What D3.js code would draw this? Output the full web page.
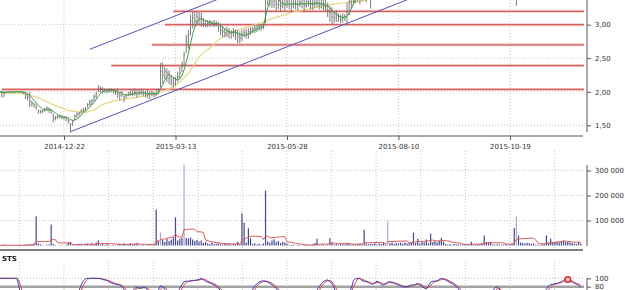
<!DOCTYPE html>
<html>
<head>
<meta charset="utf-8">
<script src="https://cdn.jsdelivr.net/npm/d3@7"></script>
<style>
  body { margin: 0; background: #fff; }
  svg { display: block; font-family: "DejaVu Sans", Verdana, sans-serif; }
</style>
</head>
<body>
<svg id="chart" width="625" height="290"></svg>
<script>
// Dagliga staplar, index 0 = första synliga handelsdagen
const dateTickIdx = [30, 82, 134, 186, 238];
const dateLabels = ["2014-12-22", "2015-03-13", "2015-05-28", "2015-08-10", "2015-10-19"];

const closePx = [
  2.00,1.99,1.98,2.00,2.00,2.00,2.00,2.00,2.00,2.00,2.00,1.99,
  1.95,1.92,1.86,1.83,1.81,1.77,1.72,1.71,1.72,1.74,1.76,1.74,
  1.70,1.60,1.62,1.63,1.64,1.62,1.62,1.60,1.57,1.52,1.56,1.64,
  1.67,1.68,1.72,1.74,1.75,1.81,1.85,1.87,1.93,1.97,2.05,2.04,
  2.01,2.03,2.01,2.02,2.03,2.01,1.99,1.97,1.95,1.97,1.92,1.95,
  1.97,1.98,1.98,1.99,1.97,1.98,1.99,1.98,1.97,1.96,1.97,1.98,
  1.96,1.97,2.02,2.30,2.25,2.30,2.28,2.20,2.15,2.12,2.18,2.22,
  2.28,2.40,2.55,2.75,2.85,3.05,3.10,3.05,3.12,3.10,3.08,3.02,
  3.00,3.02,3.04,3.02,3.00,3.02,2.98,2.92,2.90,2.88,2.90,2.88,
  2.87,2.90,2.88,2.82,2.80,2.84,2.88,2.87,2.90,2.92,2.93,2.95,
  2.96,2.97,2.98,2.99,3.70,3.60,3.50,3.45,3.35,3.30,3.30,3.28,
  3.32,3.30,3.34,3.30,3.28,3.32,3.31,3.30,3.33,3.31,3.29,3.32,
  3.34,3.31,3.30,3.32,3.33,3.30,3.31,3.29,3.27,3.22,3.18,3.12,
  3.10,3.15,3.12,3.08,3.10,3.12,3.20,3.35,3.42,3.45,3.48,3.50,
  3.47,3.50,3.55,3.52,3.55,3.45,3.58,3.62,3.65,3.60,3.63,3.68,
  3.70,3.78,3.80,3.76,3.74,3.77,3.80,3.78,3.75,3.72,3.74,3.76,
  3.85,3.88,3.84,3.86,3.82,3.80,3.78,3.80,3.85,3.90,3.92,3.95,
  3.93,3.97,4.00,3.98,3.96,3.92,3.90,3.88,3.85,3.82,3.80,3.78,
  3.76,3.75,3.74,3.72,3.74,3.73,3.70,3.68,3.66,3.70,3.72,3.70,
  3.68,3.66,3.68,3.72,3.70,3.66,3.62,3.60,3.58,3.56,3.55,3.52,
  3.45,3.48,3.55,3.58,3.56,3.54,3.55,3.58,3.57,3.55,3.54,3.52,
  3.50,3.52,3.55,3.60,3.65,3.68,3.70,3.72,3.74,3.76,3.78,3.82,
  3.85,3.84,3.82,3.80,3.78,3.76,3.74,3.72
];

const highPx = [
  2.01,2.02,2.01,2.01,2.01,2.01,2.01,2.00,2.01,2.01,2.01,2.00,
  2.00,1.97,2.00,1.87,1.84,1.81,1.73,1.73,1.73,1.76,1.78,1.77,
  1.74,1.68,1.64,1.65,1.66,1.65,1.64,1.63,1.60,1.53,1.58,1.66,
  1.69,1.70,1.74,1.76,1.77,1.83,1.88,1.89,1.96,2.00,2.10,2.08,
  2.07,2.05,2.04,2.05,2.05,2.04,2.04,2.05,2.00,2.02,1.95,1.97,
  2.00,2.02,2.04,2.05,2.02,2.03,2.04,2.02,2.01,2.03,2.01,2.02,
  2.00,2.03,2.05,2.43,2.44,2.37,2.35,2.32,2.25,2.22,2.22,2.30,
  2.37,2.45,2.60,2.85,2.92,3.15,3.19,3.19,3.19,3.19,3.18,3.10,
  3.06,3.07,3.07,3.06,3.07,3.06,3.04,3.02,2.98,2.95,2.97,2.95,
  2.92,2.95,2.93,2.92,2.90,2.92,2.93,2.94,2.95,2.96,2.97,3.00,
  3.00,3.00,3.00,3.02,3.80,3.75,3.65,3.55,3.50,3.45,3.42,3.40,
  3.42,3.44,3.45,3.42,3.40,3.44,3.42,3.40,3.45,3.42,3.40,3.43,
  3.45,3.42,3.41,3.44,3.45,3.42,3.43,3.40,3.38,3.33,3.28,3.26,
  3.20,3.22,3.17,3.15,3.17,3.16,3.32,3.45,3.50,3.55,3.58,3.60,
  3.56,3.60,3.65,3.62,3.65,3.60,3.66,3.70,3.72,3.68,3.70,3.75,
  3.78,3.86,3.88,3.84,3.80,3.84,3.88,3.85,3.82,3.80,3.80,3.84,
  3.92,3.96,3.92,3.93,3.90,3.87,3.85,3.88,3.92,3.98,4.00,4.02,
  4.00,4.05,4.08,4.06,4.03,4.00,3.97,3.95,3.93,3.90,3.88,3.85,
  3.83,3.82,3.80,3.79,3.80,3.80,3.77,3.75,3.73,3.77,3.80,3.77,
  3.75,3.73,3.75,3.79,3.77,3.73,3.70,3.67,3.65,3.63,3.62,3.60,
  3.55,3.56,3.62,3.65,3.63,3.61,3.62,3.65,3.64,3.62,3.61,3.59,
  3.57,3.59,3.62,3.68,3.72,3.75,3.77,3.79,3.81,3.83,3.85,3.90,
  3.92,3.91,3.89,3.87,3.85,3.83,3.81,3.79
];

const lowPx = [
  1.99,1.92,1.93,1.99,1.99,2.00,1.99,1.99,2.00,1.99,1.99,1.97,
  1.90,1.88,1.78,1.79,1.77,1.74,1.68,1.68,1.69,1.71,1.72,1.69,
  1.68,1.55,1.58,1.60,1.61,1.60,1.59,1.57,1.53,1.40,1.50,1.58,
  1.62,1.64,1.68,1.70,1.72,1.77,1.79,1.81,1.86,1.90,2.00,2.00,
  1.98,1.99,1.98,1.99,2.00,1.98,1.96,1.92,1.88,1.93,1.85,1.91,
  1.94,1.95,1.94,1.95,1.92,1.95,1.96,1.94,1.93,1.91,1.90,1.94,
  1.92,1.94,1.97,2.07,2.13,2.20,2.15,2.12,2.10,2.07,2.10,2.15,
  2.20,2.30,2.38,2.58,2.65,2.85,2.95,2.98,3.00,3.00,2.98,2.97,
  2.97,2.97,2.98,2.98,2.97,2.98,2.90,2.85,2.82,2.82,2.82,2.80,
  2.80,2.82,2.78,2.73,2.73,2.76,2.82,2.80,2.80,2.85,2.88,2.88,
  2.90,2.92,2.92,2.94,3.03,3.30,3.28,3.26,3.26,3.22,3.24,3.20,
  3.25,3.22,3.26,3.24,3.19,3.25,3.24,3.22,3.27,3.25,3.21,3.26,
  3.28,3.24,3.23,3.26,3.27,3.24,3.25,3.22,3.20,3.12,3.05,3.00,
  3.03,3.05,3.05,3.03,3.04,3.06,3.00,3.15,3.25,3.30,3.33,3.35,
  3.31,3.36,3.38,3.34,3.40,3.25,3.50,3.54,3.57,3.52,3.55,3.60,
  3.62,3.68,3.72,3.68,3.66,3.69,3.72,3.70,3.67,3.64,3.66,3.68,
  3.76,3.80,3.76,3.78,3.74,3.72,3.70,3.72,3.77,3.82,3.84,3.87,
  3.85,3.89,3.92,3.90,3.88,3.84,3.82,3.80,3.77,3.74,3.72,3.70,
  3.68,3.67,3.66,3.64,3.66,3.65,3.62,3.60,3.58,3.62,3.64,3.62,
  3.60,3.58,3.60,3.64,3.62,3.58,3.54,3.52,3.50,3.48,3.47,3.44,
  3.39,3.29,3.47,3.50,3.48,3.46,3.47,3.50,3.49,3.47,3.46,3.44,
  3.42,3.44,3.47,3.52,3.57,3.60,3.62,3.64,3.66,3.68,3.70,3.74,
  3.77,3.76,3.74,3.72,3.70,3.68,3.66,3.64
];

// Långt glidande medelvärde (gul linje)
const maLong = [
  1.99,1.99,1.98,1.98,1.98,1.98,1.98,1.98,1.98,1.98,1.98,1.98,1.97,
  1.96,1.95,1.94,1.93,1.92,1.91,1.90,1.88,
  1.87,1.85,1.84,1.82,1.81,1.79,1.78,1.77,1.76,1.75,1.73,
  1.72,1.72,1.71,1.71,1.70,1.70,1.70,1.70,1.69,1.70,
  1.71,1.72,1.73,1.75,1.77,1.79,1.81,1.82,1.83,1.84,1.85,
  1.86,1.87,1.87,1.88,1.88,1.89,1.89,1.90,1.90,1.91,1.91,1.92,1.92,1.93,1.93,
  1.94,1.95,1.96,1.97,1.97,1.98,1.99,2.00,
  2.01,2.02,2.03,2.04,2.06,2.08,2.10,2.12,
  2.15,2.18,2.21,2.24,2.28,2.32,2.37,2.42,2.47,2.52,2.55,
  2.58,2.61,2.63,2.65,2.68,2.71,2.74,2.77,2.80,
  2.82,2.84,2.86,2.88,2.89,2.90,2.91,2.92,2.93,
  2.94,2.95,2.96,2.97,2.98,2.99,3.00,3.01,3.02,3.03,3.04,3.05,3.07,
  3.08,3.09,3.10,3.11,3.12,3.13,3.14,3.15,3.16,
  3.17,3.18,3.19,3.20,3.20,3.21,3.21,3.22,3.23,3.23,3.24,
  3.25,3.25,3.26,3.27,3.27,3.28,3.28,3.29,3.30,3.30,3.31,
  3.31,3.32,3.32,3.32,3.33,3.33,3.33,3.34,3.34,3.34,3.34,3.35,3.35,3.36,3.37,
  3.38,3.39,3.41,3.42,3.44,3.45,3.47,3.48,3.50,3.52,3.54,3.55,3.57,3.58,3.60,3.61,
  3.63,3.64,3.66,3.67,3.69,3.70,3.72,3.73,3.74,3.75,3.76,3.77,3.78,3.79,3.80,3.81,
  3.82,3.83,3.84,3.85,3.86,3.86,3.87,3.87,3.87,3.87,3.87,3.86,3.86,3.85,3.84,3.83,
  3.82,3.81,3.80,3.79,3.77,3.76,3.75,3.74,3.73,3.72,3.71,3.70,3.70,3.69,3.68,3.67,
  3.66,3.65,3.64,3.63,3.62,3.61,3.60,3.60,3.59,3.59,3.58,3.58,3.57,3.57,3.56,3.56,
  3.56,3.56,3.56,3.57,3.57,3.58,3.59,3.60,3.61,3.62,3.63,3.64,3.65,3.66,3.67,3.68,
  3.69,3.70,3.71,3.72
];

// Omsättning, tusental aktier
const volumeK = [
  0,2,3,0,1,0,2,0,1,0,0,2,4,3,6,4,
  9,117,8,5,2,0,3,4,84,6,2,0,1,2,0,3,
  12,14,3,1,2,6,2,1,5,8,3,10,6,12,20,4,
  8,3,9,2,1,3,1,5,7,2,9,4,6,9,3,7,
  10,2,1,3,1,2,4,1,6,144,18,52,22,14,26,18,
  24,33,113,20,26,30,324,30,28,32,24,18,22,15,20,10,
  14,8,6,10,5,7,9,6,4,8,5,10,3,7,6,15,
  5,129,91,12,69,29,6,9,4,7,3,8,220,16,12,20,
  25,14,18,10,15,12,8,3,2,4,1,3,2,0,3,1,
  2,1,4,10,27,3,2,4,1,3,29,12,4,6,3,7,
  5,4,8,6,3,5,4,6,8,3,63,8,5,7,6,9,
  4,8,6,10,5,97,9,12,6,10,8,11,7,12,9,10,
  14,51,10,27,8,15,12,24,9,47,14,18,12,20,31,16,
  6,4,5,3,6,4,5,3,4,6,3,5,15,4,3,6,
  5,8,40,14,12,15,4,3,5,4,3,4,6,3,5,8,
  71,116,40,12,10,8,11,9,6,8,3,4,2,5,6,40,
  12,27,14,10,16,12,18,20,14,16,12,10,8,6,14,8
];
const lightVolumeDays = [75, 86, 181, 241];

// Stokastisk oscillator %K
const stsK = [
  100,100,100,100,100,100,100,100,100,
  80,55,35,20,12,8,10,6,4,8,12,18,
  25,30,22,12,5,10,15,20,18,15,10,6,3,15,
  35,55,70,84,94,99,100,100,100,100,100,100,
  99,97,96,95,92,89,88,86,85,84,80,74,
  64,62,66,70,76,79,77,76,79,78,72,66,
  68,64,66,72,82,80,74,66,55,45,40,48,
  65,76,85,92,93,93,94,95,95,96,97,100,
  97,93,91,89,87,84,81,77,70,60,50,45,
  40,35,38,30,20,18,25,35,40,50,65,74,
  82,87,91,93,94,93,91,88,85,80,76,68,
  60,62,58,64,56,50,58,55,52,60,56,50,
  58,64,55,52,60,72,80,87,92,95,96,92,
  87,77,62,50,40,45,52,58,68,76,95,99,
  100,100,94,93,92,90,87,86,90,93,90,85,
  84,88,91,92,90,88,86,84,82,80,79,80,
  82,84,84,86,88,84,80,77,75,82,91,93,
  93,94,97,100,98,96,93,90,88,84,80,75,
  65,55,48,40,35,42,38,30,25,22,35,45,
  40,35,45,70,78,80,75,60,45,35,28,22,
  15,8,12,30,40,35,30,35,42,38,32,28,
  25,30,45,62,74,82,85,86,87,88,90,92,
  95,100,96,94,91,88,86,84,79
];
const stsSignalDays = [265];

// Stöd/motstånd och trendkanal (pris, startdag)
const resistanceLevels = [3.20, 3.00, 2.70, 2.39, 2.035];
const resistanceStart = [81, 77, 71, 52, 1];
const trendChannel = [
  { from: [33, 1.405], to: [200, 3.496] },
  { from: [42, 2.633], to: [111, 3.495] }
];

const priceTicks = [1.5, 2.0, 2.5, 3.0];
const volumeTicks = [100, 200, 300];
const stsTicks = [80, 100];

// ---------------------------------------------------------------
const svg = d3.select("#chart");
const plotR = 584;
const axisX = 587;
const priceBottom = 136;
const volTop = 151, volBottom = 250;
const stsTop = 262;
const gridColor = "#c4c4c4";
const axisColor = "#555";

const loc = d3.formatLocale({ decimal: ",", thousands: " ", grouping: [3], currency: ["", ""] });
const fmtPrice = loc.format(".2f");
const fmtVol = loc.format(",d");

const x = d3.scaleLinear().domain([0, closePx.length - 1]).range([-0.3, 580.7]);
const yP = d3.scaleLinear().domain([1.5, 3.0]).range([125.3, 24.7]);
const yV = d3.scaleLinear().domain([0, 300]).range([245.5, 170.5]);
const yS = d3.scaleLinear().domain([80, 100]).range([286.7, 278.3]);

function sma(arr, n) {
  return arr.map((_, i) => d3.mean(arr.slice(Math.max(0, i - n + 1), i + 1)));
}
const maShort = sma(closePx, 5);
const volMA = sma(volumeK, 10);
const stsD = sma(stsK, 3);

const minorStep = (dateTickIdx[1] - dateTickIdx[0]) / 2.5;
const minorIdx = d3.range(dateTickIdx[0] - minorStep, closePx.length, minorStep);

const defs = svg.append("defs");
function clip(id, y0, y1) {
  defs.append("clipPath").attr("id", id)
    .append("rect").attr("x", 0).attr("y", y0).attr("width", plotR).attr("height", y1 - y0);
  return `url(#${id})`;
}

function dotted(g, x1, y1, x2, y2) {
  g.append("line")
    .attr("x1", x1).attr("y1", y1).attr("x2", x2).attr("y2", y2)
    .attr("stroke", gridColor).attr("stroke-width", 1)
    .attr("stroke-dasharray", "1,2");
}

function styleAxis(g) {
  g.attr("font-family", "DejaVu Sans, Verdana, sans-serif").attr("font-size", 7);
  g.select(".domain").remove();
  g.selectAll(".tick line").attr("stroke", axisColor);
  g.selectAll(".tick text").attr("fill", "#333");
}

// ---- Prispanel
const gPrice = svg.append("g").attr("clip-path", clip("clipPrice", -5, priceBottom));

priceTicks.forEach(v => dotted(gPrice, 0, yP(v), plotR, yP(v)));
dateTickIdx.forEach(i => dotted(gPrice, x(i), 0, x(i), priceBottom));

// motståndslinjer
resistanceLevels.forEach((lvl, k) => {
  [["#f4cccc", 3], ["#d95f5f", 1.3]].forEach(([c, w]) => {
    gPrice.append("line")
      .attr("x1", x(resistanceStart[k])).attr("x2", plotR)
      .attr("y1", yP(lvl)).attr("y2", yP(lvl))
      .attr("stroke", c).attr("stroke-width", w);
  });
});

// trendkanal
trendChannel.forEach(t => {
  gPrice.append("line")
    .attr("x1", x(t.from[0])).attr("y1", yP(t.from[1]))
    .attr("x2", x(t.to[0])).attr("y2", yP(t.to[1]))
    .attr("stroke", "#5252b4").attr("stroke-width", 1);
});

const lineP = d3.line().x((d, i) => x(i)).y(d => yP(d));
gPrice.append("path").datum(maLong)
  .attr("d", lineP).attr("fill", "none")
  .attr("stroke", "#e2d67e").attr("stroke-width", 1.2);

// OHLC-staplar
const bars = gPrice.append("g");
closePx.forEach((c, i) => {
  bars.append("line")
    .attr("x1", x(i)).attr("x2", x(i))
    .attr("y1", yP(highPx[i])).attr("y2", yP(lowPx[i]) + 0.5)
    .attr("stroke", "#6e6e6e").attr("stroke-width", 0.9);
  bars.append("line")
    .attr("x1", x(i)).attr("x2", x(i) + 1.1)
    .attr("y1", yP(c)).attr("y2", yP(c))
    .attr("stroke", "#6e6e6e").attr("stroke-width", 0.8);
});

gPrice.append("path").datum(maShort)
  .attr("d", lineP).attr("fill", "none")
  .attr("stroke", "#3f9f3f").attr("stroke-width", 1);

// axlar för prispanelen
svg.append("line").attr("x1", 0).attr("x2", 583).attr("y1", priceBottom).attr("y2", priceBottom)
  .attr("stroke", axisColor).attr("stroke-width", 1);
svg.append("line").attr("x1", axisX).attr("x2", axisX).attr("y1", 0).attr("y2", 132)
  .attr("stroke", axisColor).attr("stroke-width", 1);

svg.append("g").attr("transform", `translate(0,${priceBottom})`)
  .call(d3.axisBottom(x).tickValues(dateTickIdx)
    .tickFormat((d, i) => dateLabels[i]).tickSize(4).tickPadding(4))
  .call(styleAxis);

svg.append("g").attr("transform", `translate(${axisX},0)`)
  .call(d3.axisRight(yP).tickValues(priceTicks).tickFormat(fmtPrice).tickSize(4).tickPadding(4))
  .call(styleAxis);

// ---- Volympanel
const gVol = svg.append("g").attr("clip-path", clip("clipVol", volTop, volBottom));
volumeTicks.forEach(v => dotted(gVol, 0, yV(v), plotR, yV(v)));
minorIdx.forEach(i => dotted(gVol, x(i), volTop, x(i), volBottom));

volumeK.forEach((v, i) => {
  if (!v) return;
  gVol.append("line")
    .attr("x1", x(i)).attr("x2", x(i))
    .attr("y1", yV(0)).attr("y2", yV(v))
    .attr("stroke", lightVolumeDays.includes(i) ? "#a9a9d0" : "#45458f")
    .attr("stroke-width", 1.2);
});

gVol.append("path").datum(volMA)
  .attr("d", d3.line().x((d, i) => x(i)).y(d => yV(d)))
  .attr("fill", "none").attr("stroke", "#dd5858").attr("stroke-width", 1);

svg.append("line").attr("x1", 0).attr("x2", 583).attr("y1", volBottom).attr("y2", volBottom)
  .attr("stroke", axisColor).attr("stroke-width", 1.5);
svg.append("line").attr("x1", axisX).attr("x2", axisX).attr("y1", 165).attr("y2", 246)
  .attr("stroke", axisColor).attr("stroke-width", 1);
svg.append("g").attr("transform", `translate(${axisX},0)`)
  .call(d3.axisRight(yV).tickValues(volumeTicks).tickFormat(v => fmtVol(v * 1000))
    .tickSize(4).tickPadding(4))
  .call(styleAxis);

// ---- STS-panel
svg.append("text").attr("x", 2).attr("y", 261)
  .attr("font-size", 7).attr("font-weight", "bold").attr("fill", "#222")
  .text("STS");

const gSts = svg.append("g").attr("clip-path", clip("clipSts", stsTop, 300));
minorIdx.forEach(i => dotted(gSts, x(i), stsTop, x(i), 300));
dotted(gSts, 0, yS(100), plotR, yS(100));
gSts.append("line").attr("x1", 0).attr("x2", plotR).attr("y1", yS(80)).attr("y2", yS(80))
  .attr("stroke", "#a3a3a3").attr("stroke-width", 2.5);

const lineS = d3.line().x((d, i) => x(i)).y(d => yS(d));
gSts.append("path").datum(stsD).attr("d", lineS)
  .attr("fill", "none").attr("stroke", "#e04a4a").attr("stroke-width", 1);
gSts.append("path").datum(stsK).attr("d", lineS)
  .attr("fill", "none").attr("stroke", "#3e3ebd").attr("stroke-width", 1);

stsSignalDays.forEach(i => {
  gSts.append("circle").attr("cx", x(i)).attr("cy", yS(stsD[i])).attr("r", 2.8)
    .attr("fill", "#f6c4c4").attr("stroke", "#e02020").attr("stroke-width", 1.4);
});

svg.append("line").attr("x1", axisX).attr("x2", axisX).attr("y1", yS(100)).attr("y2", 290)
  .attr("stroke", axisColor).attr("stroke-width", 1);
svg.append("g").attr("transform", `translate(${axisX},0)`)
  .call(d3.axisRight(yS).tickValues(stsTicks).tickSize(4).tickPadding(4))
  .call(styleAxis);
</script>
</body>
</html>
